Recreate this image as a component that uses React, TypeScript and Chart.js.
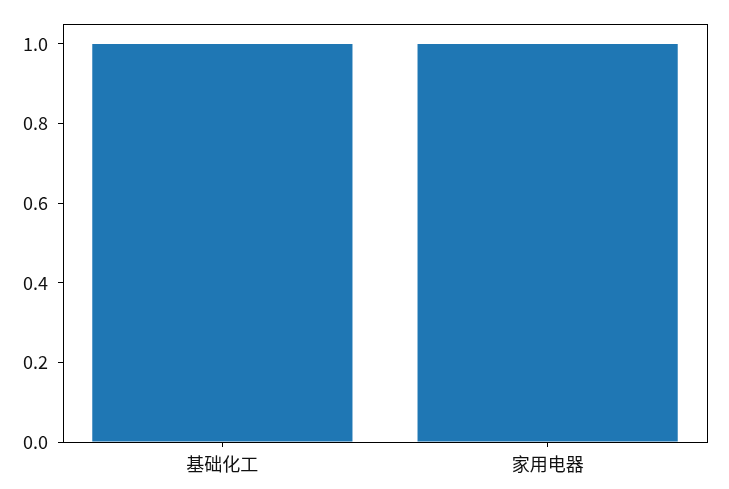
import { useEffect, useRef } from "react";
import Chart from "chart.js/auto";

const categories = ["基础化工", "家用电器"];
const values = [1, 1];
const yTicks = [0, 0.2, 0.4, 0.6, 0.8, 1.0];

const FONT = "'Noto Sans CJK SC', sans-serif";

// draws the top and right spines so the plot has a full box
const framePlugin = {
  id: "frame",
  afterDraw(chart: Chart) {
    const { ctx, chartArea } = chart;
    ctx.save();
    ctx.strokeStyle = "#000";
    ctx.lineWidth = 1;
    ctx.strokeRect(
      Math.round(chartArea.left) + 0.5,
      Math.round(chartArea.top) + 0.5,
      Math.round(chartArea.right - chartArea.left),
      Math.round(chartArea.bottom - chartArea.top)
    );
    ctx.restore();
  },
};

export default function App() {
  const canvasRef = useRef<HTMLCanvasElement>(null);

  useEffect(() => {
    document.body.style.margin = "0";
    if (!canvasRef.current) return;

    const chart = new Chart(canvasRef.current, {
      type: "bar",
      data: {
        datasets: [
          {
            data: values.map((v, i) => ({ x: i, y: v })),
            backgroundColor: "#1f77b4",
            borderWidth: 0,
            barPercentage: 0.8,
            categoryPercentage: 1,
          },
        ],
      },
      options: {
        responsive: false,
        animation: false,
        layout: { padding: { left: 0, top: 24, right: 22, bottom: 0 } },
        plugins: {
          legend: { display: false },
          tooltip: { enabled: false },
        },
        scales: {
          x: {
            type: "linear",
            min: -0.49,
            max: 1.49,
            offset: false,
            afterBuildTicks: (scale) => {
              scale.ticks = categories.map((_, i) => ({ value: i }));
            },
            afterFit: (scale) => {
              scale.height = 47;
            },
            ticks: {
              callback: (v) => categories[Number(v)] ?? "",
              color: "#111",
              font: { family: FONT, size: 18 },
              padding: 6,
              maxRotation: 0,
            },
            grid: {
              offset: false,
              drawOnChartArea: false,
              drawTicks: true,
              tickLength: 5,
              color: "#000",
            },
            border: { display: true, color: "#000", width: 1 },
          },
          y: {
            min: 0,
            max: 1.05,
            afterBuildTicks: (scale) => {
              scale.ticks = yTicks.map((v) => ({ value: v }));
            },
            afterFit: (scale) => {
              scale.width = 63;
            },
            ticks: {
              callback: (v) => Number(v).toFixed(1),
              color: "#111",
              font: { family: FONT, size: 18 },
              padding: 10,
            },
            grid: {
              drawOnChartArea: false,
              drawTicks: true,
              tickLength: 5,
              color: "#000",
            },
            border: { display: true, color: "#000", width: 1 },
          },
        },
      },
      plugins: [framePlugin],
    });

    return () => chart.destroy();
  }, []);

  return (
    <div style={{ width: 729, height: 489, background: "#fff" }}>
      <canvas ref={canvasRef} width={729} height={489} />
    </div>
  );
}
